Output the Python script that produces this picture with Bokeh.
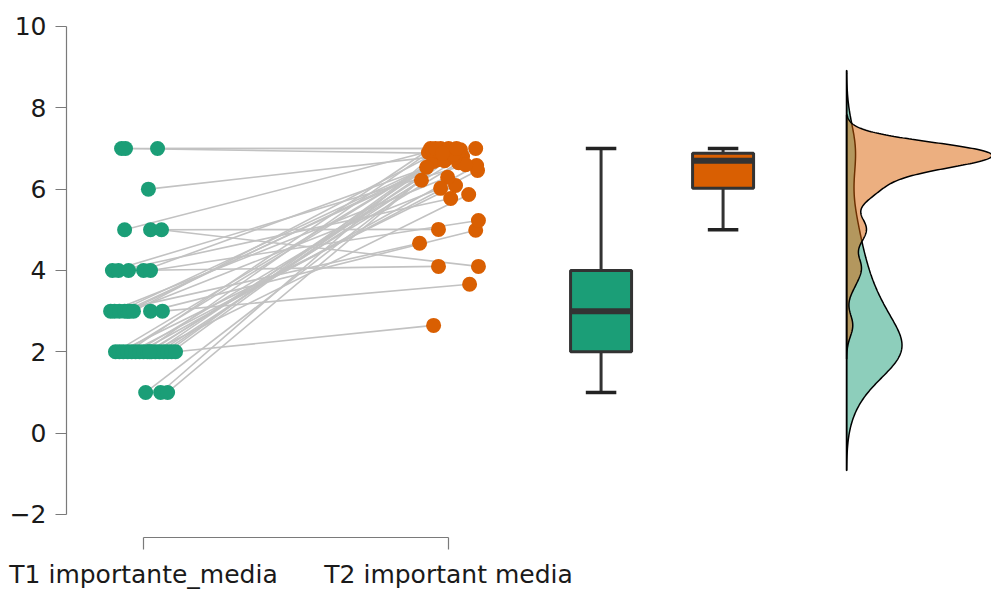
import numpy as np
from bokeh.plotting import figure
from bokeh.models import FixedTicker, Range1d
from bokeh.embed import file_html
from bokeh.resources import INLINE

# Two paired measurements per respondent
categories = ["T1 importante_media", "T2 important media"]
group_x = [1, 2]
colors = ["#1b9e77", "#d95f02"]

t1_values = [1, 1, 1,
             2, 2, 2, 2, 2, 2, 2, 2, 2, 2, 2, 2, 2, 2, 2, 2, 2,
             3, 3, 3, 3, 3, 3, 3, 3, 3,
             4, 4, 4, 4, 4,
             5, 5, 5,
             6,
             7, 7, 7]
t1_jitter = [0.007, 0.056, 0.079,
             -0.092, -0.079, -0.066, -0.052, -0.039, -0.026, -0.013, 0.000,
             0.013, 0.026, 0.039, 0.052, 0.066, 0.079, 0.092, 0.105, 0.020,
             -0.108, -0.095, -0.079, -0.062, -0.052, -0.046, -0.033, 0.023, 0.062,
             -0.102, -0.082, -0.049, 0.000, 0.023,
             -0.062, 0.023, 0.059,
             0.016,
             -0.072, -0.059, 0.046]
t2_values = [6.97, 7.00, 6.88,
             6.85, 6.09, 6.72, 7.00, 6.46, 6.80, 6.58, 6.90,
             6.65, 5.87, 6.75, 6.22, 6.82, 7.00, 6.68, 2.65, 6.87,
             6.29, 4.67, 6.54, 7.00, 6.70, 6.02, 6.92, 4.99, 3.66,
             6.60, 5.77, 4.10, 6.78, 5.23,
             6.95, 5.01, 4.10,
             6.85,
             7.00, 6.88, 7.00]
t2_jitter = [0.039, -0.026, 0.013,
             -0.010, 0.023, -0.039, -0.059, 0.095, 0.046, 0.092, -0.066,
             0.033, 0.066, -0.023, -0.089, 0.003, 0.000, -0.049, -0.049, 0.030,
             -0.003, -0.095, -0.072, 0.089, -0.013, -0.026, -0.033, 0.089, 0.069,
             0.056, 0.007, -0.033, 0.020, 0.098,
             -0.052, -0.033, 0.098,
             0.016,
             -0.043, -0.020, 0.026]

# Box plot summaries
box_x = [2.5, 2.9]
box_q1 = [2.0, 6.02]
box_median = [3.0, 6.7]
box_q3 = [4.0, 6.88]
box_low = [1.0, 5.0]
box_high = [7.0, 7.0]

y_ticks = [-2, 0, 2, 4, 6, 8, 10]

density_base = 3.305
density_scale = 0.57


def kde_nrd0(values, n_grid=512):
    v = np.asarray(values, dtype=float)
    n = v.size
    sd = v.std(ddof=1)
    q75, q25 = np.percentile(v, [75, 25])
    bw = 0.9 * min(sd, (q75 - q25) / 1.34) * n ** -0.2
    grid = np.linspace(v.min() - 3 * bw, v.max() + 3 * bw, n_grid)
    z = (grid[:, None] - v[None, :]) / bw
    dens = np.exp(-0.5 * z ** 2).sum(axis=1) / (n * bw * np.sqrt(2 * np.pi))
    return grid, dens


p = figure(width=991, height=591, output_backend="svg", toolbar_location=None,
           x_range=Range1d(0.7475, 3.780), y_range=Range1d(-2.566, 10.393),
           min_border_left=66, min_border_right=0, min_border_top=10, min_border_bottom=51)
p.outline_line_color = None
p.grid.visible = False
p.background_fill_color = "white"
p.border_fill_color = "white"

# Paired lines
x1 = [group_x[0] + j for j in t1_jitter]
x2 = [group_x[1] + j for j in t2_jitter]
p.segment(x0=x1, y0=t1_values, x1=x2, y1=t2_values, line_color="#c2c2c2", line_width=1.6)

# Points
p.scatter(x=x1, y=t1_values, size=15, fill_color=colors[0], line_color=colors[0], line_width=0)
p.scatter(x=x2, y=t2_values, size=15, fill_color=colors[1], line_color=colors[1], line_width=0)

# Box plots
box_w = 0.2
cap_w = 0.1
edge = "#333333"
p.segment(x0=box_x, y0=box_low, x1=box_x, y1=box_q1, line_color=edge, line_width=3)
p.segment(x0=box_x, y0=box_q3, x1=box_x, y1=box_high, line_color=edge, line_width=3)
p.segment(x0=[x - cap_w / 2 for x in box_x], y0=box_low,
          x1=[x + cap_w / 2 for x in box_x], y1=box_low, line_color="#222222", line_width=3.5)
p.segment(x0=[x - cap_w / 2 for x in box_x], y0=box_high,
          x1=[x + cap_w / 2 for x in box_x], y1=box_high, line_color="#222222", line_width=3.5)
p.vbar(x=box_x, width=box_w, bottom=box_q1, top=box_q3, fill_color=colors,
       line_color=edge, line_width=3)
p.segment(x0=[x - box_w / 2 for x in box_x], y0=box_median,
          x1=[x + box_w / 2 for x in box_x], y1=box_median, line_color=edge, line_width=6)

# Half-violin densities
for vals, col in [(t1_values, colors[0]), (t2_values, colors[1])]:
    grid, dens = kde_nrd0(vals)
    xs = np.concatenate([[density_base], density_base + dens * density_scale, [density_base]])
    ys = np.concatenate([[grid[0]], grid, [grid[-1]]])
    p.patch(xs, ys, fill_color=col, fill_alpha=0.5, line_color="black", line_width=1.5)

g1, _ = kde_nrd0(t1_values)
p.segment(x0=[density_base], y0=[g1[0]], x1=[density_base], y1=[g1[-1]],
          line_color="black", line_width=1.5)

# Axes
font = "DejaVu Sans"
p.yaxis.ticker = FixedTicker(ticks=y_ticks)
p.yaxis.bounds = (y_ticks[0], y_ticks[-1])
p.yaxis.major_label_overrides = {t: str(t).replace("-", "\u2212") for t in y_ticks}
p.xaxis.ticker = FixedTicker(ticks=group_x)
p.xaxis.bounds = (group_x[0], group_x[-1])
p.xaxis.major_label_overrides = dict(zip(group_x, categories))
for ax in (p.xaxis, p.yaxis):
    ax.axis_line_color = "#7a7a7a"
    ax.axis_line_width = 1.2
    ax.major_tick_line_color = "#7a7a7a"
    ax.major_tick_line_width = 1.2
    ax.minor_tick_line_color = None
    ax.major_tick_in = 0
    ax.major_label_text_font = font
    ax.major_label_text_font_size = "25px"
    ax.major_label_text_color = "#1a1a1a"
p.yaxis.major_tick_out = 11
p.yaxis.major_label_standoff = 9
p.xaxis.major_tick_out = 12
p.xaxis.major_label_standoff = 10

open("out.html", "w").write(file_html(p, INLINE))
